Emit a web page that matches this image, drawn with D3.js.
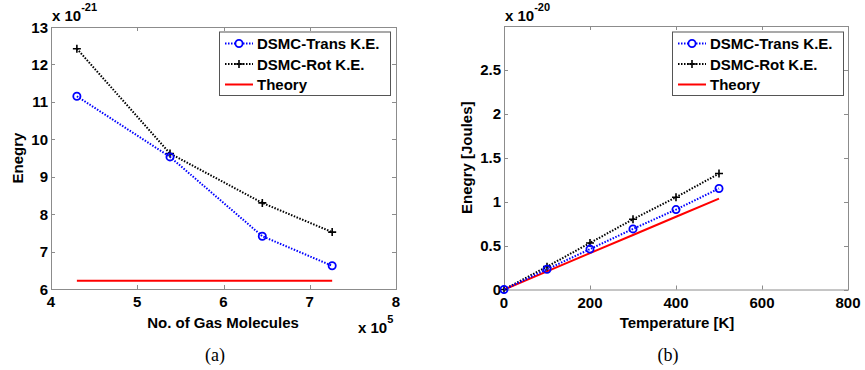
<!DOCTYPE html>
<html>
<head>
<meta charset="utf-8">
<script src="https://cdn.jsdelivr.net/npm/d3@7"></script>
<style>
  html, body { margin: 0; padding: 0; background: #fff; }
  svg { display: block; }
  text { font-family: "Liberation Sans", Arial, sans-serif; font-weight: bold; fill: #000; }
</style>
</head>
<body>
<svg id="chart" width="865" height="370"></svg>
<script>
// Panel (a): energy vs number of gas molecules (x in units of 1e5, y in units of 1e-21)
const molecules = [4.3, 5.38, 6.45, 7.26];
const transKE_a = [11.15, 9.53, 7.41, 6.62];
const rotKE_a = [12.42, 9.62, 8.30, 7.52];
const theory_a = [6.22, 6.22, 6.22, 6.22];
const xTicks_a = [4, 5, 6, 7, 8];
const yTicks_a = [6, 7, 8, 9, 10, 11, 12, 13];

// Panel (b): energy vs temperature (y in units of 1e-20 J)
const temperature = [0, 100, 200, 300, 400, 500];
const transKE_b = [0, 0.23, 0.46, 0.69, 0.91, 1.15];
const rotKE_b = [0, 0.26, 0.53, 0.80, 1.05, 1.32];
const theory_b = [0, 0.207, 0.414, 0.621, 0.828, 1.035];
const xTicks_b = [0, 200, 400, 600, 800];
const yTicks_b = [0, 0.5, 1, 1.5, 2, 2.5];

const legendLabels = ["DSMC-Trans K.E.", "DSMC-Rot K.E.", "Theory"];

const svg = d3.select("#chart");

function panel(cfg) {
  const x = d3.scaleLinear().domain(cfg.xDomain).range([cfg.left, cfg.right]);
  const y = d3.scaleLinear().domain(cfg.yDomain).range([cfg.bottom, cfg.top]);
  const g = svg.append("g");
  const tickLen = 4;
  const boxColor = "#8c8c8c";

  // tick marks on all four sides, pointing inward
  const tk = g.append("g").attr("stroke", boxColor).attr("stroke-width", 1);
  cfg.xTicks.forEach(v => {
    const px = Math.round(x(v)) + 0.5;
    tk.append("line").attr("x1", px).attr("x2", px).attr("y1", cfg.bottom).attr("y2", cfg.bottom - tickLen);
    tk.append("line").attr("x1", px).attr("x2", px).attr("y1", cfg.top).attr("y2", cfg.top + tickLen);
  });
  cfg.yTicks.forEach(v => {
    const py = Math.round(y(v)) + 0.5;
    tk.append("line").attr("x1", cfg.left).attr("x2", cfg.left + tickLen).attr("y1", py).attr("y2", py);
    tk.append("line").attr("x1", cfg.right).attr("x2", cfg.right - tickLen).attr("y1", py).attr("y2", py);
  });
  g.append("rect")
    .attr("x", cfg.left + 0.5).attr("y", cfg.top + 0.5)
    .attr("width", cfg.right - cfg.left).attr("height", cfg.bottom - cfg.top)
    .attr("fill", "none").attr("stroke", boxColor).attr("stroke-width", 1);

  // tick labels
  g.selectAll(".xt").data(cfg.xTicks).join("text")
    .attr("x", d => x(d)).attr("y", cfg.bottom + 18)
    .attr("text-anchor", "middle").attr("font-size", 15)
    .text(d => d);
  g.selectAll(".yt").data(cfg.yTicks).join("text")
    .attr("x", cfg.left - 3).attr("y", d => y(d) + 5.5)
    .attr("text-anchor", "end").attr("font-size", 15)
    .text(d => d);

  // axis titles
  g.append("text").attr("x", cfg.xLabelX).attr("y", 328)
    .attr("text-anchor", "middle").attr("font-size", 15).text(cfg.xLabel);
  g.append("text")
    .attr("transform", `translate(${cfg.yLabelX},${(cfg.top + cfg.bottom) / 2}) rotate(-90)`)
    .attr("text-anchor", "middle").attr("font-size", 15).text(cfg.yLabel);

  // y exponent
  const ye = g.append("text").attr("x", cfg.left + 1).attr("y", 21).attr("font-size", 15);
  ye.append("tspan").text("x 10");
  ye.append("tspan").attr("dy", -10).attr("font-size", 11).text(cfg.yExp);

  // x exponent
  if (cfg.xExp) {
    const xe = g.append("text").attr("x", cfg.right - 38).attr("y", 333).attr("font-size", 15);
    xe.append("tspan").text("x 10");
    xe.append("tspan").attr("dy", -10).attr("font-size", 11).text(cfg.xExp);
  }

  // caption
  svg.append("text").attr("x", cfg.captionX).attr("y", 361)
    .attr("text-anchor", "middle")
    .style("font-family", "'Liberation Serif', 'Times New Roman', serif")
    .style("font-weight", "normal")
    .attr("font-size", 18).text(cfg.caption);

  const line = d3.line().x(d => x(d[0])).y(d => y(d[1]));
  const plot = g.append("g");

  // theory
  plot.append("path").datum(cfg.xs.map((v, i) => [v, cfg.theory[i]]))
    .attr("d", line).attr("fill", "none").attr("stroke", "#ff0000").attr("stroke-width", 2);

  // rotational KE
  const rot = cfg.xs.map((v, i) => [v, cfg.rot[i]]);
  plot.append("path").datum(rot)
    .attr("d", line).attr("fill", "none").attr("stroke", "#000")
    .attr("stroke-width", 2).attr("stroke-dasharray", "1.5,1.5");
  plot.selectAll(".rm").data(rot).join("path")
    .attr("d", d => `M${x(d[0]) - 4},${y(d[1])}h8M${x(d[0])},${y(d[1]) - 4}v8`)
    .attr("stroke", "#000").attr("stroke-width", 1.6);

  // translational KE
  const tr = cfg.xs.map((v, i) => [v, cfg.trans[i]]);
  plot.append("path").datum(tr)
    .attr("d", line).attr("fill", "none").attr("stroke", "#0000ff")
    .attr("stroke-width", 2).attr("stroke-dasharray", "1.5,1.5");
  plot.selectAll(".tm").data(tr).join("circle")
    .attr("cx", d => x(d[0])).attr("cy", d => y(d[1])).attr("r", 3.6)
    .attr("fill", "none").attr("stroke", "#0000ff").attr("stroke-width", 1.8);

  // legend
  const lx = cfg.legendX, ly = 31.5, lw = 171, lh = 63.5;
  const lg = g.append("g");
  lg.append("rect").attr("x", lx + 0.5).attr("y", ly + 0.5).attr("width", lw).attr("height", lh)
    .attr("fill", "#fff").attr("stroke", "#555").attr("stroke-width", 1);
  const rows = [43.5, 64, 84.5];
  const s0 = lx + 6, s1 = lx + 34, sm = (s0 + s1) / 2;
  lg.append("line").attr("x1", s0).attr("x2", s1).attr("y1", rows[0]).attr("y2", rows[0])
    .attr("stroke", "#0000ff").attr("stroke-width", 2).attr("stroke-dasharray", "1.5,1.5");
  lg.append("circle").attr("cx", sm).attr("cy", rows[0]).attr("r", 3.6)
    .attr("fill", "#fff").attr("stroke", "#0000ff").attr("stroke-width", 1.8);
  lg.append("line").attr("x1", s0).attr("x2", s1).attr("y1", rows[1]).attr("y2", rows[1])
    .attr("stroke", "#000").attr("stroke-width", 2).attr("stroke-dasharray", "1.5,1.5");
  lg.append("path").attr("d", `M${sm - 4},${rows[1]}h8M${sm},${rows[1] - 4}v8`)
    .attr("stroke", "#000").attr("stroke-width", 1.6);
  lg.append("line").attr("x1", s0).attr("x2", s1).attr("y1", rows[2]).attr("y2", rows[2])
    .attr("stroke", "#ff0000").attr("stroke-width", 2);
  lg.selectAll(".lt").data(legendLabels).join("text")
    .attr("x", lx + 38).attr("y", (d, i) => rows[i] + 5.5)
    .attr("font-size", 15).text(d => d);
}

panel({
  left: 51, right: 396, top: 27, bottom: 289,
  xDomain: [4, 8], yDomain: [6, 13],
  xTicks: xTicks_a, yTicks: yTicks_a,
  xs: molecules, trans: transKE_a, rot: rotKE_a, theory: theory_a,
  xLabel: "No. of Gas Molecules", xLabelX: 223,
  yLabel: "Enegry", yLabelX: 23,
  yExp: "-21", xExp: "5",
  legendX: 219, caption: "(a)", captionX: 215
});

panel({
  left: 504, right: 848, top: 26, bottom: 289.5,
  xDomain: [0, 800], yDomain: [0, 3],
  xTicks: xTicks_b, yTicks: yTicks_b,
  xs: temperature, trans: transKE_b, rot: rotKE_b, theory: theory_b,
  xLabel: "Temperature [K]", xLabelX: 677,
  yLabel: "Enegry [Joules]", yLabelX: 472,
  yExp: "-20", xExp: null,
  legendX: 672, caption: "(b)", captionX: 668
});
</script>
</body>
</html>
